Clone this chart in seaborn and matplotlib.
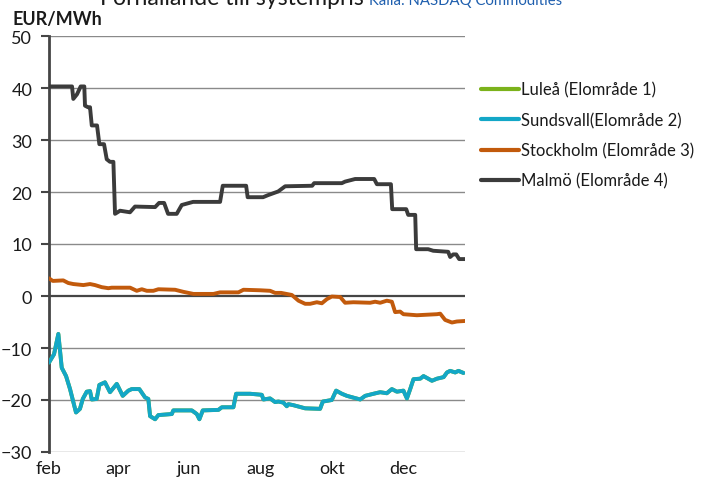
import matplotlib
matplotlib.use("Agg")
import matplotlib.pyplot as plt
import seaborn as sns
import pandas as pd

# Days counted from 1 February; values are EUR/MWh relative to the system price
malmo_day = [0, 19.7, 20.8, 24, 27.1, 30.2, 30.8, 33.4, 35.1, 36.6, 41.1, 43.1, 47.1,
             49.4, 52.2, 55.1, 56.5, 60.8, 69.3, 73.6, 90.8, 94.2, 98.5, 101.9, 109.3,
             113.6, 123.3, 146.4, 148.7, 168.7, 170, 183.2, 187.5, 196.1, 202.1, 225.2,
             226.9, 250.6, 253.4, 262, 278.3, 280.6, 292.6, 293.7, 305.7, 307.4, 313.4,
             314.2, 324.5, 328.8, 341.6, 343.3, 345.9, 348.5, 351, 356.2]
malmo_val = [40.3, 40.3, 37.9, 38.8, 40.3, 40.3, 36.6, 36.3, 36.3, 32.8, 32.8, 29.2, 29.2,
             26.3, 25.8, 25.8, 15.8, 16.4, 16.1, 17.2, 17.1, 17.9, 17.9, 15.8, 15.8,
             17.5, 18.1, 18.1, 21.2, 21.2, 19.0, 19.0, 19.4, 20.1, 21.1, 21.2,
             21.7, 21.7, 22.0, 22.5, 22.5, 21.5, 21.5, 16.7, 16.7, 15.6, 15.6,
             9.0, 9.0, 8.7, 8.5, 7.5, 8.0, 8.0, 7.1, 7.1]

sthlm_day = [0, 3.2, 12.2, 16.5, 20.8, 29.4, 35.1, 39.4, 45.1, 50.8, 53.7, 69.4, 75.1,
             79.4, 83.7, 89.3, 93.6, 107.9, 115, 123.6, 140.7, 146.4, 162.1, 166.4,
             180.7, 189.2, 193.5, 198.6, 207.8, 213.5, 219.2, 223.5, 229.2, 233.5,
             237.8, 242, 249.2, 253.4, 260.5, 274.8, 279.1, 283.4, 289.1, 293.4,
             296.2, 300.5, 303.3, 314.8, 332, 334.8, 339, 344.8, 349.1, 356.2]
sthlm_val = [3.4, 2.9, 3.0, 2.5, 2.3, 2.1, 2.3, 2.1, 1.7, 1.5, 1.6, 1.6, 1.0,
             1.3, 1.0, 1.0, 1.3, 1.2, 0.8, 0.4, 0.4, 0.7, 0.7, 1.2,
             1.1, 1.0, 0.6, 0.6, 0.2, -0.9, -1.5, -1.5, -1.2, -1.4,
             -0.6, -0.1, -0.2, -1.3, -1.2, -1.3, -1.1, -1.3, -0.9, -1.1,
             -3.1, -3.0, -3.5, -3.7, -3.5, -3.4, -4.6, -5.1, -4.9, -4.8]

sund_day = [0, 4.3, 8, 10.9, 14.6, 18, 23.1, 26.5, 28.9, 32.3, 35.1, 36.6, 40.8, 43.1,
            47.9, 52.2, 58, 63.1, 67.9, 70.8, 77.3, 82.2, 85, 86.5, 90.8, 93.6, 105.1,
            106.4, 122.2, 126.5, 128.7, 131.6, 145, 147.9, 157.8, 160.1, 172.1, 182.1,
            183.5, 189.2, 193.5, 196.3, 200.6, 203.5, 204.9, 209.2, 219.2, 232, 234.3,
            242, 245.7, 250.6, 254.9, 266.3, 270.6, 277.7, 283.4, 289.1, 293.4, 297.7,
            303.3, 306.3, 309.1, 311.9, 317.7, 320.5, 327.7, 332, 337.7, 340.6, 343.3,
            347.6, 350.4, 354.7]
sund_val = [-12.8, -11.2, -7.3, -13.8, -15.4, -17.9, -22.4, -21.7, -19.8, -18.4, -18.3,
            -19.9, -19.8, -17.1, -16.6, -18.5, -16.9, -19.2, -18.2, -17.9, -17.9, -19.5,
            -19.8, -23.1, -23.7, -22.9, -22.7, -22.0, -22.0, -22.7, -23.7, -22.0, -21.9,
            -21.4, -21.4, -18.8, -18.8, -19.0, -19.9, -19.7, -20.4, -20.3, -20.5, -21.2,
            -20.8, -21.0, -21.6, -21.7, -20.3, -20.0, -18.2, -18.8, -19.2, -19.9, -19.2,
            -18.8, -18.5, -18.7, -17.9, -18.4, -18.2, -19.7, -17.9, -16.0, -15.9, -15.4,
            -16.3, -15.9, -15.6, -14.7, -14.4, -14.7, -14.4, -14.8]

# Luleå (area 1) coincides with Sundsvall (area 2) over the whole period
lulea_day = list(sund_day)
lulea_val = list(sund_val)

series_names = ["Luleå (Elområde 1)", "Sundsvall(Elområde 2)",
                "Stockholm (Elområde 3)", "Malmö (Elområde 4)"]
series_colors = ["#7BB21B", "#13A7C7", "#C25A0C", "#3B3B3B"]

month_pos = [0, 59, 120, 181, 242, 303]
month_labels = ["feb", "apr", "jun", "aug", "okt", "dec"]

frames = []
for name, d, v in zip(series_names,
                      [lulea_day, sund_day, sthlm_day, malmo_day],
                      [lulea_val, sund_val, sthlm_val, malmo_val]):
    frames.append(pd.DataFrame({"dag": d, "pris": v, "område": name}))
df = pd.concat(frames, ignore_index=True)

sns.set_theme(style="white")
plt.rcParams["font.family"] = ["Lato", "DejaVu Sans"]

fig = plt.figure(figsize=(7.03, 4.85), dpi=100)
ax = fig.add_axes([49 / 703, 1 - 453 / 485, (465 - 49) / 703, (453 - 37) / 485])

for y in range(-30, 51, 10):
    if y == 0:
        ax.axhline(y, color="#454545", lw=1.6, zorder=1)
    else:
        ax.axhline(y, color="#8a8a8a", lw=1.0, zorder=1)

sns.lineplot(data=df, x="dag", y="pris", hue="område", hue_order=series_names,
             palette=dict(zip(series_names, series_colors)), estimator=None,
             linewidth=2.8, ax=ax, legend=False, zorder=3)

ax.set_xlim(0, 356)
ax.set_ylim(-30, 50)
ax.set_yticks(range(-30, 51, 10))
ax.set_xticks(month_pos)
ax.set_xticklabels(month_labels)
ax.set_xlabel("")
ax.set_ylabel("")
ax.tick_params(axis="y", length=6, width=1.5, color="#454545", pad=6,
               labelsize=13, labelcolor="#1a1a1a", direction="out", left=True)
ax.tick_params(axis="x", length=0, pad=6, labelsize=13, labelcolor="#1a1a1a")
for s in ["top", "right", "bottom"]:
    ax.spines[s].set_visible(False)
ax.spines["left"].set_color("#454545")
ax.spines["left"].set_linewidth(2.0)

fig.text(12 / 703, 1 - 20 / 485, "EUR/MWh", fontsize=13, fontweight="bold",
         va="center", ha="left", color="#1a1a1a")
fig.text(100 / 703, 1 - 5 / 485, "Förhållande till systempris", fontsize=16.6,
         va="baseline", ha="left", color="#1a1a1a")
fig.text(369 / 703, 1 - 5 / 485, "Källa: NASDAQ Commodities", fontsize=10.7,
         va="baseline", ha="left", color="#1F5FAE")

handles = [plt.Line2D([], [], color=c, lw=3) for c in series_colors]
fig.legend(handles, series_names, loc="upper left",
           bbox_to_anchor=(474 / 703, 1 - 76 / 485), frameon=False,
           fontsize=12, handlelength=2.3, handletextpad=0.12, labelspacing=0.85,
           borderaxespad=0, labelcolor="#1a1a1a")

fig.savefig("out.png", dpi=100)
